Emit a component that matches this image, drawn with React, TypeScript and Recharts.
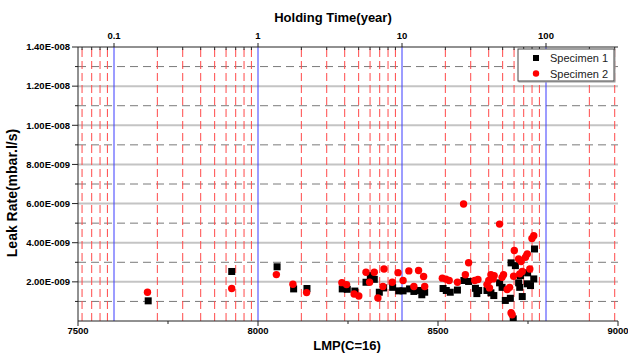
import React from 'react';
import { ScatterChart, Scatter, XAxis, YAxis, ReferenceLine } from 'recharts';

// Specimen 1 (black squares): LMP and leak rate in 1E-009 mbar.l/s
const s1Lmp = [
  7695, 7927, 8053, 8099, 8136, 8234, 8248, 8269, 8300, 8312, 8323, 8337, 8349, 8374, 8391, 8403,
  8421, 8433, 8448, 8455, 8463, 8514, 8523, 8534, 8554, 8572, 8585, 8604, 8613, 8608, 8636, 8647,
  8655, 8671, 8678, 8687, 8701, 8709, 8703, 8715, 8724, 8727, 8729, 8734, 8748, 8757, 8749, 8766, 8768,
];
const s1Leak = [
  1.03, 2.53, 2.77, 1.64, 1.66, 1.64, 1.62, 1.53, 1.98, 2.32, 2.13, 1.47, 1.69, 1.72, 1.54, 1.54,
  1.64, 1.51, 1.56, 1.34, 1.47, 1.66, 1.56, 1.47, 1.58, 2.07, 2.02, 1.67, 1.56, 1.4, 1.56, 1.44,
  1.3, 1.95, 1.72, 1.05, 1.16, 0.11, 2.97, 2.83, 1.95, 1.72, 2.32, 1.25, 1.9, 1.81, 2.46, 2.15, 3.68,
];

// Specimen 2 (red dots)
const s2Lmp = [
  7693, 7927, 8051, 8097, 8135, 8233, 8246, 8267, 8280, 8300, 8310, 8323, 8333, 8347, 8350, 8373,
  8389, 8403, 8419, 8433, 8446, 8460, 8463, 8512, 8522, 8531, 8554, 8571, 8576, 8585, 8602, 8611,
  8641, 8653, 8656, 8647, 8636, 8643, 8671, 8682, 8678, 8699, 8692, 8703, 8706, 8712, 8724, 8731,
  8743, 8748, 8710, 8727, 8734, 8755, 8761, 8766,
];
const s2Leak = [
  1.47, 1.66, 2.37, 1.88, 1.45, 1.96, 1.86, 1.38, 1.28, 2.49, 1.98, 2.49, 1.18, 1.76, 2.66, 1.98,
  2.47, 2.07, 2.56, 1.76, 2.58, 2.27, 1.76, 2.19, 2.14, 2.07, 1.98, 5.98, 2.36, 2.98, 2.07, 2.12,
  2.07, 2.15, 2.32, 2.36, 1.86, 1.69, 4.95, 2.36, 2.23, 1.72, 1.61, 0.42, 0.32, 3.6, 3.17, 3.04,
  3.26, 3.43, 2.29, 2.41, 2.53, 2.66, 4.22, 4.36,
];

const s1 = s1Lmp.map((x, i) => ({ x, y: s1Leak[i] }));
const s2 = s2Lmp.map((x, i) => ({ x, y: s2Leak[i] }));

// bottom axis
const lmpTicks = [7500, 7750, 8000, 8250, 8500, 8750, 9000];
const lmpLabels = [7500, 8000, 8500, 9000];

// top axis: holding time in years, LMP = 8000 + 400*log10(year)
const yearMajor = [0.1, 1, 10, 100];
const yearMinor = [
  0.06, 0.07, 0.08, 0.09,
  0.2, 0.3, 0.4, 0.5, 0.6, 0.7, 0.8, 0.9,
  2, 3, 4, 5, 6, 7, 8, 9,
  20, 30, 40, 50, 60, 70, 80, 90,
  200, 300,
];
const yearToLmp = (t: number) => 8000 + 400 * Math.log10(t);

// leak rate axis (1E-009 units)
const leakMajor = [2, 4, 6, 8, 10, 12, 14];
const leakMinor = [1, 3, 5, 7, 9, 11, 13];

const FONT = '"Liberation Sans", Arial, sans-serif';

const fmtLeak = (v: number) =>
  v >= 10 ? `${(v / 10).toFixed(2)}E-008` : `${v.toFixed(2)}E-009`;

const BottomTick = (props: any) => {
  const { x, y, payload } = props;
  const major = lmpLabels.includes(payload.value);
  return (
    <g>
      <line x1={x} x2={x} y1={y} y2={y + (major ? 5 : 3)} stroke="#222" />
      {major && (
        <text x={x} y={y + 13} textAnchor="middle" fontSize={9.5} fontWeight="bold" fontFamily={FONT} fill="#000">
          {payload.value}
        </text>
      )}
    </g>
  );
};

const TopTick = (props: any) => {
  const { x, y, payload } = props;
  const label = yearMajor.find((t) => Math.abs(yearToLmp(t) - payload.value) < 0.01);
  const major = label !== undefined;
  return (
    <g>
      {major ? (
        <line x1={x} x2={x} y1={y} y2={y - 4} stroke="#222" />
      ) : (
        <line x1={x} x2={x} y1={y} y2={y + 3} stroke="#222" />
      )}
      {major && (
        <text x={x} y={y - 8} textAnchor="middle" fontSize={9.5} fontWeight="bold" fontFamily={FONT} fill="#000">
          {label}
        </text>
      )}
    </g>
  );
};

const LeftTick = (props: any) => {
  const { x, y, payload } = props;
  const major = leakMajor.includes(payload.value);
  return (
    <g>
      <line x1={x - (major ? 6 : 3)} x2={x} y1={y} y2={y} stroke="#222" />
      {major && (
        <text x={x - 8} y={y + 3.3} textAnchor="end" fontSize={9.5} fontWeight="bold" fontFamily={FONT} fill="#000">
          {fmtLeak(payload.value)}
        </text>
      )}
    </g>
  );
};

const Square = (p: any) => (
  <rect x={p.cx - 3.5} y={p.cy - 3.5} width={7} height={7} fill="#000" />
);
const Dot = (p: any) => <circle cx={p.cx} cy={p.cy} r={3.7} fill="#ff0000" />;
const NoMark = () => <g />;

const topTicks = [...yearMajor, ...yearMinor].map(yearToLmp).sort((a, b) => a - b);

const App: React.FC = () => {
  return (
    <div style={{ position: 'relative', width: 628, height: 353, background: '#fff' }}>
      <style>{'body{margin:0}'}</style>
      <ScatterChart width={628} height={353} margin={{ top: 27, right: 10, bottom: 12, left: 18 }}>
        <XAxis
          xAxisId="b"
          type="number"
          dataKey="x"
          domain={[7500, 9000]}
          ticks={lmpTicks}
          interval={0}
          height={20}
          tickSize={0}
          tickMargin={0}
          tickLine={false}
          axisLine={{ stroke: '#222' }}
          tick={<BottomTick />}
          allowDataOverflow
        />
        <XAxis
          xAxisId="t"
          orientation="top"
          type="number"
          dataKey="x"
          domain={[7500, 9000]}
          ticks={topTicks}
          interval={0}
          height={20}
          tickSize={0}
          tickMargin={0}
          tickLine={false}
          axisLine={{ stroke: '#222' }}
          tick={<TopTick />}
          allowDataOverflow
        />
        <YAxis
          yAxisId="l"
          type="number"
          dataKey="y"
          domain={[0, 14]}
          ticks={[...leakMinor, ...leakMajor].sort((a, b) => a - b)}
          interval={0}
          width={60}
          tickSize={0}
          tickMargin={0}
          tickLine={false}
          axisLine={{ stroke: '#222' }}
          tick={<LeftTick />}
          allowDataOverflow
        />
        <YAxis
          yAxisId="r"
          orientation="right"
          type="number"
          dataKey="y"
          domain={[0, 14]}
          width={0}
          tick={false}
          tickLine={false}
          axisLine={{ stroke: '#222' }}
          allowDataOverflow
        />
        {leakMajor.filter((v) => v < 14).map((v) => (
          <ReferenceLine key={`hm${v}`} xAxisId="b" yAxisId="l" y={v} stroke="#c4c4c4" strokeWidth={2} />
        ))}
        {leakMinor.map((v) => (
          <ReferenceLine key={`hn${v}`} xAxisId="b" yAxisId="l" y={v} stroke="#7a7a7a" strokeDasharray="8 5" />
        ))}
        {yearMinor.map((t) => (
          <ReferenceLine
            key={`vr${t}`}
            xAxisId="b"
            yAxisId="l"
            x={yearToLmp(t)}
            stroke="#ff4a4a"
            strokeDasharray="8 4"
            ifOverflow="hidden"
          />
        ))}
        {yearMajor.map((t) => (
          <ReferenceLine key={`vb${t}`} xAxisId="b" yAxisId="l" x={yearToLmp(t)} stroke="#3a3aff" />
        ))}
        {/* ties the top (year) axis and the right border axis to the data */}
        <Scatter data={s1} xAxisId="t" yAxisId="r" shape={<NoMark />} isAnimationActive={false} legendType="none" />
        <Scatter name="Specimen 1" data={s1} xAxisId="b" yAxisId="l" shape={<Square />} isAnimationActive={false} />
        <Scatter name="Specimen 2" data={s2} xAxisId="b" yAxisId="l" shape={<Dot />} isAnimationActive={false} />
      </ScatterChart>
      <svg
        width={628}
        height={353}
        style={{ position: 'absolute', left: 0, top: 0, pointerEvents: 'none' }}
      >
        <text x={333} y={21.5} textAnchor="middle" fontSize={13} fontWeight="bold" fontFamily={FONT}>
          Holding Time(year)
        </text>
        <text x={347} y={349.5} textAnchor="middle" fontSize={13} fontWeight="bold" fontFamily={FONT}>
          LMP(C=16)
        </text>
        <text
          x={17}
          y={193}
          textAnchor="middle"
          fontSize={14}
          fontWeight="bold"
          fontFamily={FONT}
          transform="rotate(-90 17 193)"
        >
          Leak Rate(mbar.l/s)
        </text>
        <g>
          <rect x={519} y={50} width={96} height={32} fill="#fff" stroke="#9a9a9a" />
          <rect x={518} y={49} width={96} height={32} fill="#fff" stroke="#444" />
          <rect x={533} y={55} width={6} height={6} fill="#000" />
          <text x={550} y={62} fontSize={11} fontFamily={FONT} fill="#222">Specimen 1</text>
          <circle cx={536} cy={73.5} r={3.2} fill="#ff0000" />
          <text x={550} y={77.5} fontSize={11} fontFamily={FONT} fill="#222">Specimen 2</text>
        </g>
      </svg>
    </div>
  );
};

export default App;
